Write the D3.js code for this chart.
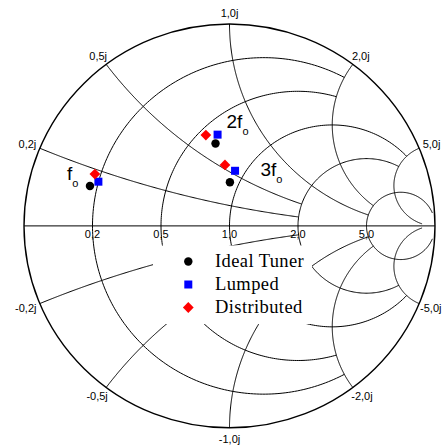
<!DOCTYPE html>
<html>
<head>
<meta charset="utf-8">
<script src="https://cdn.jsdelivr.net/npm/d3@7"></script>
<style>
    body { margin: 0; background: #fff; }
    svg { display: block; }
</style>
</head>
<body>
<div id="chart"></div>
<script>

//          Grid values (normalized r and x) and the extent each line is drawn to
var resistanceValues = [0.2, 0.5, 1.0, 2.0, 5.0];
var resistanceLimits = [2, 2, 5, 5, 30];
var reactanceValues = [0.2, 0.5, 1.0, 2.0, 5.0];
var reactanceLimits = [2, 2, 5, 5, 30];

//          Tick labels
var resistanceLabels = ["0,2", "0,5", "1,0", "2,0", "5,0"];
var reactanceLabelsPos = ["0,2j", "0,5j", "1,0j", "2,0j", "5,0j"];
var reactanceLabelsNeg = ["-0,2j", "-0,5j", "-1,0j", "-2,0j", "-5,0j"];

//          Measured reflection coefficients at fo, 2fo, 3fo
var harmonics = ["f", "2f", "3f"];
var idealRe = [-0.679, -0.068, 0.002];
var idealIm = [0.198, 0.408, 0.216];
var lumpedRe = [-0.638, -0.058, 0.027];
var lumpedIm = [0.219, 0.452, 0.273];
var distributedRe = [-0.655, -0.115, -0.022];
var distributedIm = [0.257, 0.450, 0.302];

var seriesNames = ["Ideal Tuner", "Lumped", "Distributed"];

//          Chart settings
var width = 443, height = 446;
var labelOffsets = [[-23, -6], [11, -15.5], [30.5, -6.6]];

var xs = d3.scaleLinear().domain([-1, 1]).range([24, 435]);
var ys = d3.scaleLinear().domain([-1, 1]).range([427.8, 24]);

var svg = d3.select("#chart").append("svg")
    .attr("width", width)
    .attr("height", height)
    .style("background", "#fff");

//          z = r + jx  ->  gamma = (z-1)/(z+1)
function gammaOf(r, x) {
    var a = r - 1, c = r + 1;
    var den = c * c + x * x;
    return [(a * c + x * x) / den, (x * c - a * x) / den];
}

var line = d3.line()
    .x(function(d) { return xs(d[0]); })
    .y(function(d) { return ys(d[1]); });

function resistanceArc(r, xMax) {
    var cc = r / (1 + r), rho = 1 / (1 + r);
    var g = gammaOf(r, xMax);
    var t1 = Math.atan2(g[1], g[0] - cc);
    var t2 = 2 * Math.PI - t1;
    return d3.range(0, 241).map(function(i) {
        var t = t1 + (t2 - t1) * i / 240;
        return [cc + rho * Math.cos(t), rho * Math.sin(t)];
    });
}

function reactanceArc(x, rMax) {
    var cy = 1 / x, rho = 1 / Math.abs(x);
    var g0 = gammaOf(0, x), g1 = gammaOf(rMax, x);
    var a0 = Math.atan2(g0[1] - cy, g0[0] - 1);
    var a1 = Math.atan2(g1[1] - cy, g1[0] - 1);
    var da = a1 - a0;
    while (da > Math.PI) da -= 2 * Math.PI;
    while (da < -Math.PI) da += 2 * Math.PI;
    return d3.range(0, 241).map(function(i) {
        var t = a0 + da * i / 240;
        return [1 + rho * Math.cos(t), cy + rho * Math.sin(t)];
    });
}

//          Grid lines
var grid = svg.append("g")
    .attr("fill", "none")
    .attr("stroke", "#000")
    .attr("stroke-width", 1);

resistanceValues.forEach(function(r, i) {
    grid.append("path").attr("d", line(resistanceArc(r, resistanceLimits[i])));
});
reactanceValues.forEach(function(x, i) {
    grid.append("path").attr("d", line(reactanceArc(x, reactanceLimits[i])));
    grid.append("path").attr("d", line(reactanceArc(-x, reactanceLimits[i])));
});
grid.append("line")
    .attr("x1", xs(-1)).attr("x2", xs(1))
    .attr("y1", ys(0)).attr("y2", ys(0));
grid.append("ellipse")
    .attr("cx", xs(0)).attr("cy", ys(0))
    .attr("rx", xs(1) - xs(0)).attr("ry", ys(-1) - ys(0))
    .attr("stroke-width", 1.4);

//          Resistance labels on the real axis
svg.selectAll("text.rlab").data(resistanceValues).enter().append("text")
    .attr("class", "rlab")
    .attr("x", function(r) { return xs((r - 1) / (r + 1)); })
    .attr("y", ys(0) + 12)
    .attr("text-anchor", "middle")
    .style("font-family", "'Liberation Sans', Arial, sans-serif")
    .style("font-size", "11px")
    .text(function(d, i) { return resistanceLabels[i]; });

//          Reactance labels round the rim
function rimLabel(x, txt) {
    var g = gammaOf(0, x);
    var px = xs(g[0]), py = ys(g[1]);
    var ux = g[0], uy = -g[1];
    var t = svg.append("text")
        .attr("text-anchor", "middle")
        .style("font-family", "'Liberation Sans', Arial, sans-serif")
        .style("font-size", "11px")
        .text(txt);
    var w = t.node().getComputedTextLength();
    var lx = px + ux * (4.5 + w / 2);
    lx = Math.max(w / 2 + 1, Math.min(width - w / 2 - 1.5, lx));
    t.attr("x", lx)
        .attr("y", py + uy * 11 + 4);
}
reactanceValues.forEach(function(x, i) {
    rimLabel(x, reactanceLabelsPos[i]);
    rimLabel(-x, reactanceLabelsNeg[i]);
});

//          Legend box (covers the grid)
svg.append("rect")
    .attr("x", 153).attr("y", 245.5)
    .attr("width", 159).attr("height", 78.5)
    .attr("fill", "#fff");

//          Markers
var diamond = d3.symbol().type(d3.symbolSquare).size(58)();
var square = d3.symbol().type(d3.symbolSquare).size(64)();
var circle = d3.symbol().type(d3.symbolCircle).size(56)();

function drawSeries(re, im, path, color, rot) {
    svg.append("g").selectAll("path").data(re).enter().append("path")
        .attr("d", path)
        .attr("fill", color)
        .attr("transform", function(d, i) {
            return "translate(" + xs(d) + "," + ys(im[i]) + ") rotate(" + rot + ")";
        });
}
drawSeries(idealRe, idealIm, circle, "#000", 0);
drawSeries(lumpedRe, lumpedIm, square, "#0000ff", 0);
drawSeries(distributedRe, distributedIm, diamond, "#ff0000", 45);

//          Harmonic labels
harmonics.forEach(function(h, i) {
    var t = svg.append("text")
        .attr("x", xs(idealRe[i]) + labelOffsets[i][0])
        .attr("y", ys(idealIm[i]) + labelOffsets[i][1])
        .style("font-family", "'Liberation Sans', Arial, sans-serif")
        .style("font-size", "19px");
    t.append("tspan").text(h);
    t.append("tspan").attr("dy", 7).style("font-size", "11px").text("o");
});

//          Legend
var legendSymbols = [circle, square, diamond];
var legendColors = ["#000", "#0000ff", "#ff0000"];
var legendRot = [0, 0, 45];
var legend = svg.append("g");
seriesNames.forEach(function(name, i) {
    var ly = 261.5 + i * 23;
    legend.append("path")
        .attr("d", legendSymbols[i])
        .attr("fill", legendColors[i])
        .attr("transform", "translate(188.3," + ly + ") rotate(" + legendRot[i] + ")");
    legend.append("text")
        .attr("x", 215)
        .attr("y", ly + 5.5)
        .style("font-family", "'Liberation Serif', 'Times New Roman', serif")
        .style("font-size", "18.5px")
        .style("letter-spacing", "0.4px")
        .text(name);
});
</script>
</body>
</html>
